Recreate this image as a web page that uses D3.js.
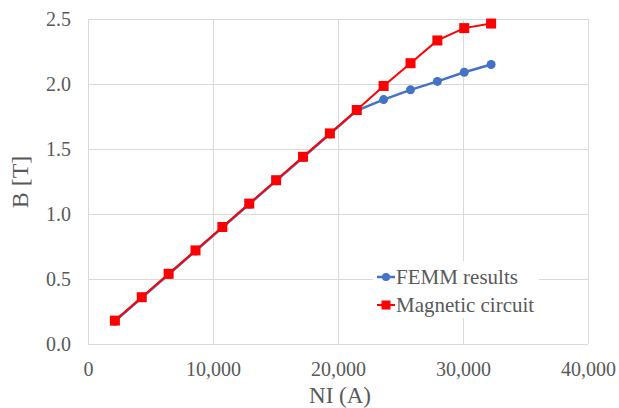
<!DOCTYPE html>
<html><head><meta charset="utf-8">
<script src="https://cdn.jsdelivr.net/npm/d3@7"></script>
<style>body{margin:0;background:#fff}svg{display:block}</style>
</head><body>
<svg id="c" width="619" height="408"></svg>
<script>
const niValues = [2150,4300,6450,8600,10750,12900,15050,17200,19350,21500,23650,25800,27950,30100,32250];
const femmB = [0.175,0.355,0.535,0.715,0.895,1.075,1.255,1.435,1.615,1.795,1.88,1.955,2.02,2.09,2.15];
const circuitB = [0.18,0.36,0.54,0.72,0.90,1.08,1.26,1.44,1.62,1.80,1.985,2.16,2.335,2.43,2.465];
const xTicks = [0,10000,20000,30000,40000];
const yTicks = [0,0.5,1.0,1.5,2.0,2.5];
const seriesNames = ["FEMM results","Magnetic circuit"];
const colors = ["#4472C4","#FF0000"];

const svg = d3.select("#c");
const L=88, R=588, T=19, B=344;
const x = d3.scaleLinear().domain([0,40000]).range([L,R]);
const y = d3.scaleLinear().domain([0,2.5]).range([B,T]);
const font = "Liberation Serif, Times New Roman, serif";
const txt = "#595959";

// grid
svg.append("g").selectAll("line").data(yTicks).join("line")
  .attr("x1",L).attr("x2",R).attr("y1",d=>y(d)).attr("y2",d=>y(d))
  .attr("stroke","#D9D9D9").attr("stroke-width",1).attr("shape-rendering","crispEdges");
svg.append("g").selectAll("line").data(xTicks).join("line")
  .attr("y1",T).attr("y2",B).attr("x1",d=>x(d)).attr("x2",d=>x(d))
  .attr("stroke","#D9D9D9").attr("stroke-width",1).attr("shape-rendering","crispEdges");

// axes labels
const xAxis = d3.axisBottom(x).tickValues(xTicks).tickSize(0).tickPadding(0).tickFormat(d3.format(","));
const gx = svg.append("g").attr("transform",`translate(0,${B})`).call(xAxis);
gx.select(".domain").remove();
gx.attr("font-family",font);
gx.selectAll("text").attr("font-family",font).attr("font-size",20).attr("fill",txt).attr("dy",null).attr("y",32);

const yAxis = d3.axisLeft(y).tickValues(yTicks).tickSize(0).tickPadding(0).tickFormat(d3.format(".1f"));
const gy = svg.append("g").attr("transform",`translate(71,0)`).call(yAxis);
gy.select(".domain").remove();
gy.attr("font-family",font);
gy.selectAll("text").attr("font-family",font).attr("font-size",20).attr("fill",txt).attr("x",0).attr("dy","0.34em");

svg.append("text").attr("x",340).attr("y",403).attr("text-anchor","middle")
  .attr("font-family",font).attr("font-size",23).attr("fill",txt).text("NI (A)");
svg.append("text").attr("transform","translate(28,182) rotate(-90)").attr("text-anchor","middle")
  .attr("font-family",font).attr("font-size",24).attr("fill",txt).text("B [T]");

// series
const line = d3.line().x((d,i)=>x(niValues[i])).y(d=>y(d));
svg.append("path").datum(femmB).attr("d",line).attr("fill","none").attr("stroke",colors[0]).attr("stroke-width",2.5);
svg.append("g").selectAll("circle").data(femmB).join("circle")
  .attr("cx",(d,i)=>x(niValues[i])).attr("cy",d=>y(d)).attr("r",4.5).attr("fill",colors[0]);
svg.append("path").datum(circuitB).attr("d",line).attr("fill","none").attr("stroke",colors[1]).attr("stroke-width",2);
const s=10;
svg.append("g").selectAll("rect").data(circuitB).join("rect")
  .attr("x",(d,i)=>x(niValues[i])-s/2).attr("y",d=>y(d)-s/2).attr("width",s).attr("height",s).attr("fill",colors[1]);

// legend
const lg = svg.append("g");
lg.append("rect").attr("x",373).attr("y",261).attr("width",166).attr("height",57).attr("fill","#fff");
const ly = [277,305];
seriesNames.forEach((n,i)=>{
  lg.append("line").attr("x1",377).attr("x2",395).attr("y1",ly[i]).attr("y2",ly[i]).attr("stroke",colors[i]).attr("stroke-width",i?2:2.5);
  if(i===0) lg.append("circle").attr("cx",386).attr("cy",ly[i]).attr("r",4).attr("fill",colors[i]);
  else lg.append("rect").attr("x",381.5).attr("y",ly[i]-4.5).attr("width",9).attr("height",9).attr("fill",colors[i]);
  lg.append("text").attr("x",396).attr("y",ly[i]).attr("dy","0.34em").attr("font-family",font).attr("font-size",21).attr("fill",txt).text(n);
});
</script>
</body></html>
